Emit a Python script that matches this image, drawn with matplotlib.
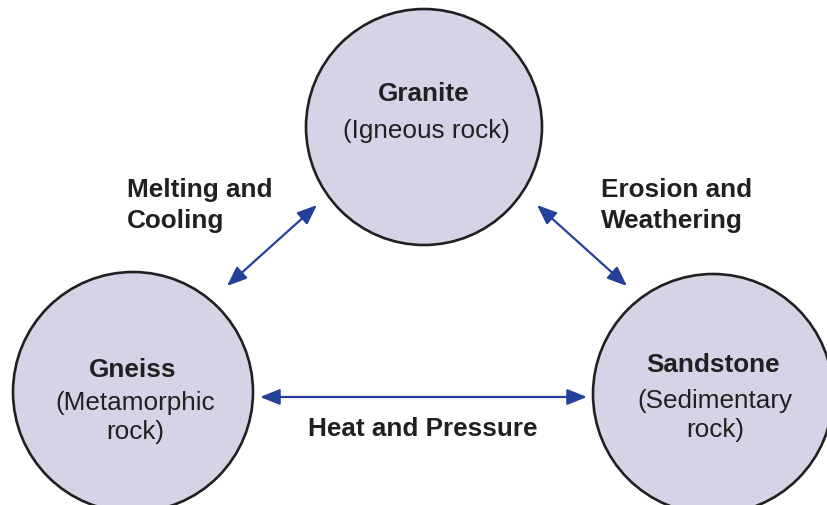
import matplotlib.pyplot as plt
from matplotlib.patches import Circle, FancyArrowPatch

# --- rock types and the processes linking them ---
rock_names = ["Granite", "Gneiss", "Sandstone"]
rock_kinds = [["(Igneous rock)"], ["(Metamorphic", "rock)"], ["(Sedimentary", "rock)"]]
processes = [["Melting and", "Cooling"], ["Erosion and", "Weathering"], ["Heat and Pressure"]]

# --- layout (pixel coordinates, y down) ---
centers = [(424, 128), (133, 393), (713, 395)]
radii = [118, 120, 120]
name_baselines = [101, 377, 372]
kind_baselines = [[138], [410, 439], [408, 437]]
arrows = [((227, 287), (317, 206)), ((537, 206), (627, 287)), ((260, 398), (587, 398))]
proc_pos = [(127, [197, 228], "left"), (601, [197, 228], "left"), (423, [436], "center")]

W, H = 827, 506
TXT = "#231f20"
FILL = "#d4d4e6"
BLUE = "#24409a"
FS = 18.8

plt.rcParams['font.family'] = ['Liberation Sans', 'DejaVu Sans']

fig = plt.figure(figsize=(W / 100, H / 100), dpi=100)
ax = fig.add_axes([0, 0, 1, 1])
ax.set_xlim(0, W)
ax.set_ylim(H, 0)
ax.set_aspect('equal')
ax.axis('off')

for (cx, cy), r, name, kind, nb, kb in zip(centers, radii, rock_names, rock_kinds, name_baselines, kind_baselines):
    ax.add_patch(Circle((cx, cy), r, facecolor=FILL, edgecolor=TXT, lw=1.9))
    ax.text(cx, nb, name, ha='center', va='baseline', fontsize=FS, fontweight='bold', color=TXT)
    for line, y in zip(kind, kb):
        ax.text(cx + 2, y, line, ha='center', va='baseline', fontsize=FS, color=TXT)

for (a, b) in arrows:
    ax.add_patch(FancyArrowPatch(a, b, arrowstyle='<|-|>,head_length=0.6,head_width=0.24',
                                 mutation_scale=20, color=BLUE, lw=1.6, shrinkA=0, shrinkB=0))

for lines, (x, ys, ha) in zip(processes, proc_pos):
    for line, y in zip(lines, ys):
        ax.text(x, y, line, ha=ha, va='baseline', fontsize=FS, fontweight='bold', color=TXT)

fig.savefig("out.png", dpi=100)
